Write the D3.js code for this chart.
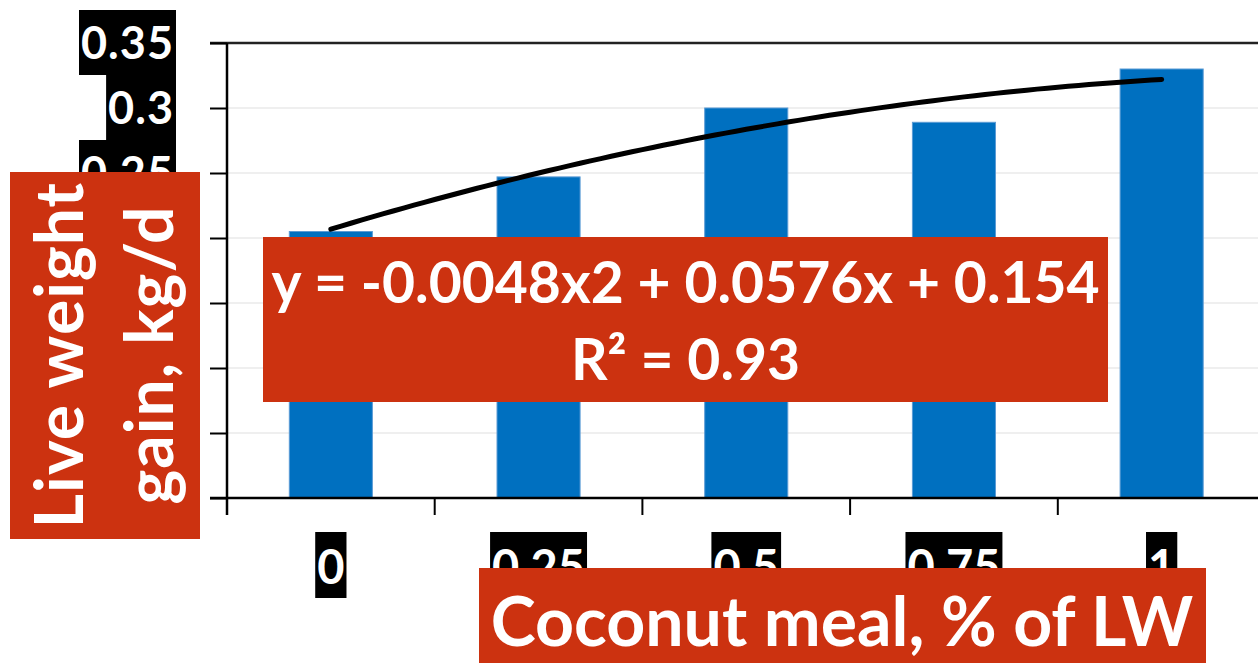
<!DOCTYPE html>
<html>
<head>
<meta charset="utf-8">
<script src="https://cdn.jsdelivr.net/npm/d3@7"></script>
<style>
  html, body { margin: 0; padding: 0; background: #fff; }
  svg { display: block; }
  text { font-family: Lato, "Open Sans", sans-serif; font-weight: 700; }
</style>
</head>
<body>
<svg id="chart" width="1258" height="663"></svg>
<script>
// Coconut meal level (% of live weight) and daily live weight gain (kg/d)
const categories = ["0", "0.25", "0.5", "0.75", "1"];
const gain = [0.205, 0.247, 0.300, 0.289, 0.330];
const yTicks = [0, 0.05, 0.10, 0.15, 0.20, 0.25, 0.30, 0.35];
const yTickLabels = ["0", "0.05", "0.1", "0.15", "0.2", "0.25", "0.3", "0.35"];

// Polynomial trendline (order 2) over category index 1..5
const trendCoef = [0.154, 0.0576, -0.0048]; // c0, c1, c2
const trendLabel = ["y = -0.0048x2 + 0.0576x + 0.154", "R² = 0.93"];

const yTitle = ["Live weight", "gain, kg/d"];
const xTitle = "Coconut meal, % of LW";

const svg = d3.select("#chart");
const W = 1258, H = 663;
const plot = { left: 227, top: 43, bottom: 498, right: 1265.5 };

const x = d3.scaleBand()
  .domain(categories)
  .range([plot.left, plot.right])
  .paddingInner(0.6)
  .paddingOuter(0.3);

const y = d3.scaleLinear().domain([0, 0.35]).range([plot.bottom, plot.top]);

// horizontal gridlines
svg.append("g")
  .selectAll("line")
  .data(yTicks.slice(1, -1))
  .join("line")
  .attr("x1", plot.left).attr("x2", W)
  .attr("y1", d => y(d)).attr("y2", d => y(d))
  .attr("stroke", "#efefef").attr("stroke-width", 2);

// bars
svg.append("g")
  .selectAll("rect")
  .data(gain)
  .join("rect")
  .attr("x", (d, i) => x(categories[i]))
  .attr("width", x.bandwidth())
  .attr("y", d => y(d))
  .attr("height", d => y(0) - y(d))
  .attr("fill", "#0070c0")
  .attr("stroke", "#5b9bd5")
  .attr("stroke-width", 1);

// top border of plot area
svg.append("line")
  .attr("x1", 210).attr("x2", W)
  .attr("y1", y(0.35)).attr("y2", y(0.35))
  .attr("stroke", "#222").attr("stroke-width", 2.5);

// y axis
const yAxis = d3.axisLeft(y).tickValues(yTicks).tickSize(17).tickFormat("");
const gy = svg.append("g").attr("transform", `translate(${plot.left},0)`).call(yAxis);
gy.select(".domain").remove();
gy.selectAll(".tick line").attr("stroke", "#000").attr("stroke-width", 2);
svg.append("line")
  .attr("x1", plot.left).attr("x2", plot.left)
  .attr("y1", plot.top).attr("y2", plot.bottom + 17)
  .attr("stroke", "#000").attr("stroke-width", 2.5);

// x axis with ticks at category boundaries
const step = x.step();
const boundaries = d3.range(categories.length + 1).map(i => plot.left + i * step);
svg.append("line")
  .attr("x1", 210).attr("x2", W)
  .attr("y1", plot.bottom).attr("y2", plot.bottom)
  .attr("stroke", "#000").attr("stroke-width", 2.5);
svg.append("g")
  .selectAll("line")
  .data(boundaries.slice(1))
  .join("line")
  .attr("x1", d => d).attr("x2", d => d)
  .attr("y1", plot.bottom).attr("y2", plot.bottom + 17)
  .attr("stroke", "#000").attr("stroke-width", 2);

// trendline
const trend = i => trendCoef[0] + trendCoef[1] * i + trendCoef[2] * i * i;
const xi = d3.scaleLinear().domain([1, categories.length])
  .range([x(categories[0]) + x.bandwidth() / 2, x(categories[categories.length - 1]) + x.bandwidth() / 2]);
const samples = d3.range(1, categories.length + 0.001, 0.05);
svg.append("path")
  .datum(samples)
  .attr("d", d3.line().x(d => xi(d)).y(d => y(trend(d))))
  .attr("fill", "none")
  .attr("stroke", "#000")
  .attr("stroke-width", 5)
  .attr("stroke-linecap", "round");

// y tick labels on black boxes
const yLab = svg.append("g");
yTicks.forEach((t, i) => {
  const g = yLab.append("g");
  const txt = g.append("text")
    .attr("x", 174).attr("y", y(t) + 16)
    .attr("text-anchor", "end")
    .attr("font-size", 45)
    .attr("letter-spacing", 1)
    .attr("fill", "#fff")
    .text(yTickLabels[i]);
  const bb = txt.node().getBBox();
  g.insert("rect", "text")
    .attr("x", bb.x - 2).attr("width", bb.width + 4)
    .attr("y", y(t) - 33).attr("height", 65)
    .attr("fill", "#000");
});

// x tick labels on black boxes
const xLab = svg.append("g");
categories.forEach(c => {
  const g = xLab.append("g");
  const cx = x(c) + x.bandwidth() / 2;
  const txt = g.append("text")
    .attr("x", cx).attr("y", 584)
    .attr("text-anchor", "middle")
    .attr("font-size", 47)
    .attr("fill", "#fff")
    .text(c);
  const bb = txt.node().getBBox();
  g.insert("rect", "text")
    .attr("x", bb.x - 2).attr("width", bb.width + 4)
    .attr("y", 532).attr("height", 66)
    .attr("fill", "#000");
});

const red = "#cc3210";

// equation label
const eq = svg.append("g");
eq.append("rect").attr("x", 263).attr("y", 237).attr("width", 845).attr("height", 165).attr("fill", red);
eq.append("text").attr("x", 685.5).attr("y", 303).attr("text-anchor", "middle")
  .attr("font-size", 57).attr("fill", "#fff").text(trendLabel[0]);
eq.append("text").attr("x", 685.5).attr("y", 380).attr("text-anchor", "middle")
  .attr("font-size", 57).attr("fill", "#fff").text(trendLabel[1]);

// y axis title
const yt = svg.append("g");
yt.append("rect").attr("x", 10).attr("y", 172).attr("width", 190).attr("height", 367).attr("fill", red);
yTitle.forEach((line, i) => {
  yt.append("text")
    .attr("transform", `translate(${[83, 173][i]},355) rotate(-90)`)
    .attr("text-anchor", "middle")
    .attr("font-size", 66)
    .attr("letter-spacing", 1)
    .attr("fill", "#fff")
    .text(line);
});

// x axis title
const xt = svg.append("g");
xt.append("rect").attr("x", 479).attr("y", 568).attr("width", 727).attr("height", 95).attr("fill", red);
xt.append("text").attr("x", 842).attr("y", 646).attr("text-anchor", "middle")
  .attr("font-size", 68).attr("fill", "#fff").text(xTitle);
</script>
</body>
</html>
